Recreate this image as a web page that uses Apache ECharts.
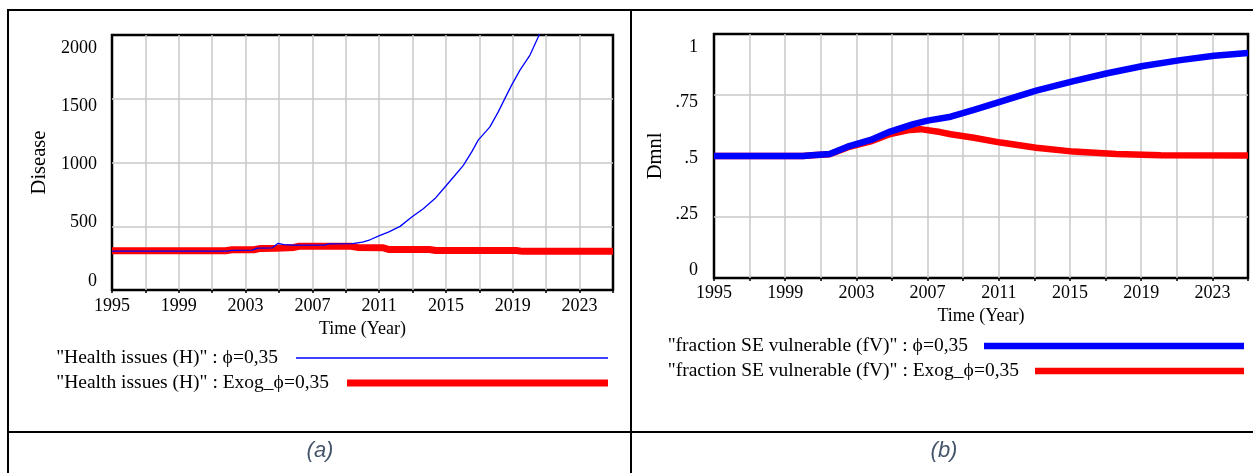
<!DOCTYPE html>
<html><head><meta charset="utf-8">
<script src="https://cdn.jsdelivr.net/npm/echarts@6/dist/echarts.min.js"></script>
<style>html,body{margin:0;padding:0;background:#fff;}#c{width:1253px;height:473px;}</style>
</head><body><div id="c"></div>
<script>
// ---- tick labels ----
const xTickLabels = ['1995','1999','2003','2007','2011','2015','2019','2023'];
const leftYTickLabels = ['0','500','1000','1500','2000'];
const rightYTickLabels = ['0','.25','.5','.75','1'];
const START_YEAR = 1995;

// ---- series names ----
const nameHealthBase = '"Health issues (H)" : \u03D5=0,35';
const nameHealthExog = '"Health issues (H)" : Exog_\u03D5=0,35';
const nameFvBase = '"fraction SE vulnerable (fV)" : \u03D5=0,35';
const nameFvExog = '"fraction SE vulnerable (fV)" : Exog_\u03D5=0,35';

// ---- panel (a): Health issues ----
const healthBaseYears = [1995, 2001.9, 2002.2, 2003.4, 2003.7, 2004.6, 2004.95, 2005.3, 2005.8, 2007.7, 2008.0, 2009.4, 2010.0, 2010.45, 2011.05, 2011.55, 2012.25, 2012.95, 2013.64, 2014.34, 2014.94, 2015.54, 2016.04, 2016.54, 2016.93, 2017.63, 2018.13, 2018.53, 2018.93, 2019.43, 2020.03, 2020.53, 2021.0];
const healthBaseValues = [305, 305, 310, 312, 329, 331, 366, 356, 352, 352, 362, 363, 376, 394, 428, 454, 499, 572, 638, 717, 808, 900, 978, 1083, 1175, 1279, 1397, 1503, 1607, 1725, 1843, 1987, 2110];
const healthExogYears = [1995, 2001.8, 2002.2, 2003.5, 2003.9, 2004.8, 2005.9, 2006.2, 2009.3, 2009.7, 2011.2, 2011.6, 2014.0, 2014.4, 2019.2, 2019.6, 2025];
const healthExogValues = [308, 308, 316, 316, 326, 328, 334, 343, 343, 334, 332, 317, 317, 310, 310, 303, 303];

// ---- panel (b): fraction SE vulnerable ----
const fvBaseYears = [1995, 2000.0, 2000.5, 2001.5, 2002.5, 2003.8, 2004.9, 2006.2, 2007.0, 2008.3, 2009.6, 2011.1, 2013.1, 2015.2, 2017.1, 2019.1, 2021.2, 2023.1, 2025];
const fvBaseValues = [0.5, 0.5, 0.503, 0.508, 0.538, 0.566, 0.6, 0.631, 0.645, 0.661, 0.689, 0.723, 0.768, 0.807, 0.839, 0.869, 0.893, 0.911, 0.922];
const fvExogYears = [1995, 2000.0, 2000.5, 2001.5, 2002.5, 2003.8, 2004.9, 2006.0, 2006.6, 2007.7, 2008.3, 2009.6, 2011.1, 2013.1, 2015.2, 2017.6, 2020.1, 2025];
const fvExogValues = [0.5, 0.5, 0.503, 0.507, 0.535, 0.56, 0.59, 0.607, 0.61, 0.598, 0.589, 0.575, 0.555, 0.534, 0.518, 0.508, 0.503, 0.502];

function pairs(years, vals) { return years.map((y, i) => [y - START_YEAR, vals[i]]); }

const SERIF = '"Liberation Serif","Times New Roman",serif';
const GRIDLINE = { show: true, showMinLine: false, showMaxLine: false, lineStyle: { color: '#c8c8c8', width: 1.5 } };

function mainX(gi, margin) {
  return {
    gridIndex: gi, type: 'value', min: 0, max: 30, interval: 2,
    axisLine: { show: false },
    axisTick: { show: true, length: 3, lineStyle: { color: '#000', width: 1.5 } },
    axisLabel: { formatter: v => (v % 4 === 0 ? xTickLabels[v / 4] : ''), fontFamily: SERIF, fontSize: 18, color: '#000', margin: margin },
    splitLine: GRIDLINE,
    name: 'Time (Year)', nameLocation: 'middle', nameGap: 28,
    nameTextStyle: { fontFamily: SERIF, fontSize: 18, color: '#000' }
  };
}
function mainY(gi, max, interval, name, gap) {
  return {
    gridIndex: gi, type: 'value', min: 0, max: max, interval: interval,
    axisLine: { show: false }, axisTick: { show: false }, axisLabel: { show: false },
    splitLine: GRIDLINE,
    name: name, nameLocation: 'middle', nameGap: gap,
    nameTextStyle: { fontFamily: SERIF, fontSize: 20.5, color: '#000' }
  };
}
function labelY(gi, max, interval, labels, margin) {
  return {
    gridIndex: gi, type: 'value', min: 0, max: max, interval: interval,
    axisLine: { show: false }, axisTick: { show: false }, splitLine: { show: false },
    axisLabel: { formatter: v => labels[Math.round(v / interval)], fontFamily: SERIF, fontSize: 18, color: '#000', margin: margin }
  };
}
function legendRow(name, right, top, width, thick, pad) {
  return {
    data: [{ name: name, icon: 'rect' }], right: right, top: top, itemWidth: width, itemHeight: thick,
    align: 'right', padding: 0, selectedMode: false,
    textStyle: { fontFamily: SERIF, fontSize: 19.5, color: '#000', padding: [0, pad, 0, 0] }
  };
}

const chart = echarts.init(document.getElementById('c'), null, { renderer: 'canvas' });
chart.setOption({
  animation: false,
  backgroundColor: '#fff',
  grid: [
    { left: 112, top: 35, width: 501, height: 255, show: true, borderColor: '#000', borderWidth: 2.5, backgroundColor: 'transparent' },
    { left: 112, top: 48, width: 501, height: 233 },
    { left: 714, top: 34, width: 534, height: 244, show: true, borderColor: '#000', borderWidth: 2.5, backgroundColor: 'transparent' },
    { left: 714, top: 47, width: 534, height: 223 }
  ],
  xAxis: [
    mainX(0, 7),
    { gridIndex: 1, type: 'value', min: 0, max: 1, show: false },
    mainX(2, 6),
    { gridIndex: 3, type: 'value', min: 0, max: 1, show: false }
  ],
  yAxis: [
    mainY(0, 2000, 500, 'Disease', 62),
    labelY(1, 2000, 500, leftYTickLabels, 15),
    mainY(2, 1, 0.25, 'Dmnl', 48),
    labelY(3, 1, 0.25, rightYTickLabels, 16)
  ],
  legend: [
    legendRow(nameHealthBase, 645, 348, 312, 1.5, 13),
    legendRow(nameHealthExog, 645, 373, 261, 7, 13),
    legendRow(nameFvBase, 9, 336, 260, 6.5, 11),
    legendRow(nameFvExog, 9, 361, 209, 6.5, 11)
  ],
  series: [
    { name: nameHealthExog, type: 'line', xAxisIndex: 0, yAxisIndex: 0, symbol: 'none', data: pairs(healthExogYears, healthExogValues), lineStyle: { color: '#ff0000', width: 7 }, itemStyle: { color: '#ff0000' } },
    { name: nameHealthBase, type: 'line', xAxisIndex: 0, yAxisIndex: 0, symbol: 'none', data: pairs(healthBaseYears, healthBaseValues), lineStyle: { color: '#0000ff', width: 1.3 }, itemStyle: { color: '#0000ff' } },
    { name: nameFvExog, type: 'line', xAxisIndex: 2, yAxisIndex: 2, symbol: 'none', data: pairs(fvExogYears, fvExogValues), lineStyle: { color: '#ff0000', width: 6.5 }, itemStyle: { color: '#ff0000' } },
    { name: nameFvBase, type: 'line', xAxisIndex: 2, yAxisIndex: 2, symbol: 'none', data: pairs(fvBaseYears, fvBaseValues), lineStyle: { color: '#0000ff', width: 6.5 }, itemStyle: { color: '#0000ff' } }
  ],
  graphic: [
    { type: 'line', shape: { x1: 7, y1: 10, x2: 1253, y2: 10 }, style: { stroke: '#000', lineWidth: 2 }, silent: true },
    { type: 'line', shape: { x1: 8, y1: 9, x2: 8, y2: 473 }, style: { stroke: '#000', lineWidth: 2 }, silent: true },
    { type: 'line', shape: { x1: 631, y1: 9, x2: 631, y2: 473 }, style: { stroke: '#000', lineWidth: 2 }, silent: true },
    { type: 'line', shape: { x1: 7, y1: 432, x2: 1253, y2: 432 }, style: { stroke: '#000', lineWidth: 2 }, silent: true },
    { type: 'text', x: 320, y: 451, style: { text: '(a)', font: 'italic 22px "Liberation Sans", Arial, sans-serif', fill: '#44546a', align: 'center', verticalAlign: 'middle' }, silent: true },
    { type: 'text', x: 944, y: 451, style: { text: '(b)', font: 'italic 22px "Liberation Sans", Arial, sans-serif', fill: '#44546a', align: 'center', verticalAlign: 'middle' }, silent: true }
  ]
});
</script>
</body></html>
